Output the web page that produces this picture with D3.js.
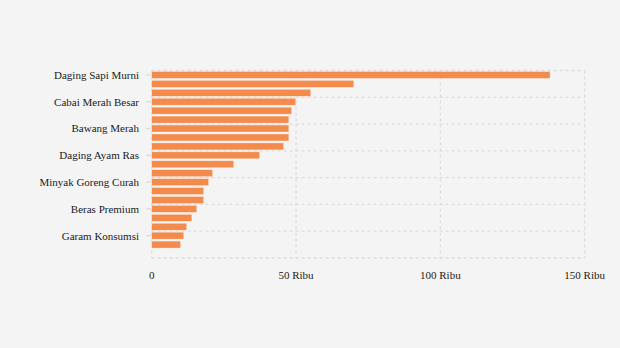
<!DOCTYPE html>
<html><head><meta charset="utf-8">
<script src="https://cdn.jsdelivr.net/npm/d3@7"></script>
<style>html,body{margin:0;padding:0;background:#f4f4f4;}svg{display:block;}</style>
</head><body>
<script>
const categories = ["Daging Sapi Murni","Cabai Rawit Merah","Cabai Merah Keriting","Cabai Merah Besar","Cabai Rawit Hijau","Bawang Putih Bonggol","Bawang Merah","Telur Ayam Ras","Gula Pasir Lokal","Daging Ayam Ras","Gula Pasir Premium","Minyak Goreng Kemasan","Minyak Goreng Curah","Beras Kualitas Super","Beras Medium","Beras Premium","Tepung Terigu","Beras Kualitas Bawah","Garam Konsumsi","Jagung Pipilan"];
const values = [138, 70, 55.1, 49.9, 48.5, 47.5, 47.5, 47.5, 45.7, 37.4, 28.4, 21.1, 19.7, 18.0, 18.0, 15.6, 13.9, 12.1, 11.1, 10.0];
const xTicks = [0, 50, 100, 150];
const xTickLabels = ["0", "50 Ribu", "100 Ribu", "150 Ribu"];

const W = 620, H = 348;
const svg = d3.select("body").append("svg").attr("width", W).attr("height", H);
svg.append("rect").attr("width", W).attr("height", H).attr("fill", "#f4f4f4");

const slots = d3.range(21);
const y = d3.scaleBand().domain(slots).range([70.5, 258]).padding(0);
const x = d3.scaleLinear().domain([0, 150]).range([151.7, 584.7]);

const grid = svg.append("g").attr("stroke", "#dcdcdc").attr("stroke-width", 1.3).attr("stroke-dasharray", "3,3").attr("fill", "none");
d3.range(0, 22, 3).forEach(i => {
  const yy = i < 21 ? y(i) : y.range()[1];
  grid.append("line").attr("x1", x(0)).attr("x2", x(150)).attr("y1", yy).attr("y2", yy);
});
xTicks.forEach(t => {
  grid.append("line").attr("x1", x(t)).attr("x2", x(t)).attr("y1", y.range()[0]).attr("y2", y.range()[1]);
});

const ticks = d3.range(0, categories.length, 3);
svg.append("g").selectAll("line").data(ticks).join("line")
  .attr("x1", 146).attr("x2", 151).attr("y1", i => y(i) + y.bandwidth()/2).attr("y2", i => y(i) + y.bandwidth()/2)
  .attr("stroke", "#dcdcdc").attr("stroke-width", 1.3);
svg.append("g").selectAll("text").data(ticks).join("text")
  .attr("x", 139).attr("y", i => y(i) + y.bandwidth()/2).attr("dy", "0.35em")
  .attr("text-anchor", "end").attr("font-family", "'Liberation Serif', 'Times New Roman', serif").attr("font-size", 11)
  .attr("fill", "#1a1a1a").text(i => categories[i]);

const bh = y.bandwidth() * 0.78;
svg.append("g").selectAll("rect").data(values).join("rect")
  .attr("x", x(0)).attr("y", (d, i) => y(i) + (y.bandwidth() - bh)/2)
  .attr("width", d => x(d) - x(0)).attr("height", bh)
  .attr("fill", "#f28b4c").attr("stroke", "#ffffff").attr("stroke-opacity", 0.5).attr("stroke-width", 0.6);

svg.append("g").selectAll("text").data(xTicks).join("text")
  .attr("x", d => x(d)).attr("y", 279).attr("text-anchor", "middle")
  .attr("font-family", "'Liberation Serif', 'Times New Roman', serif").attr("font-size", 11)
  .attr("fill", "#1a1a1a").text((d, i) => xTickLabels[i]);
</script>
</body></html>
